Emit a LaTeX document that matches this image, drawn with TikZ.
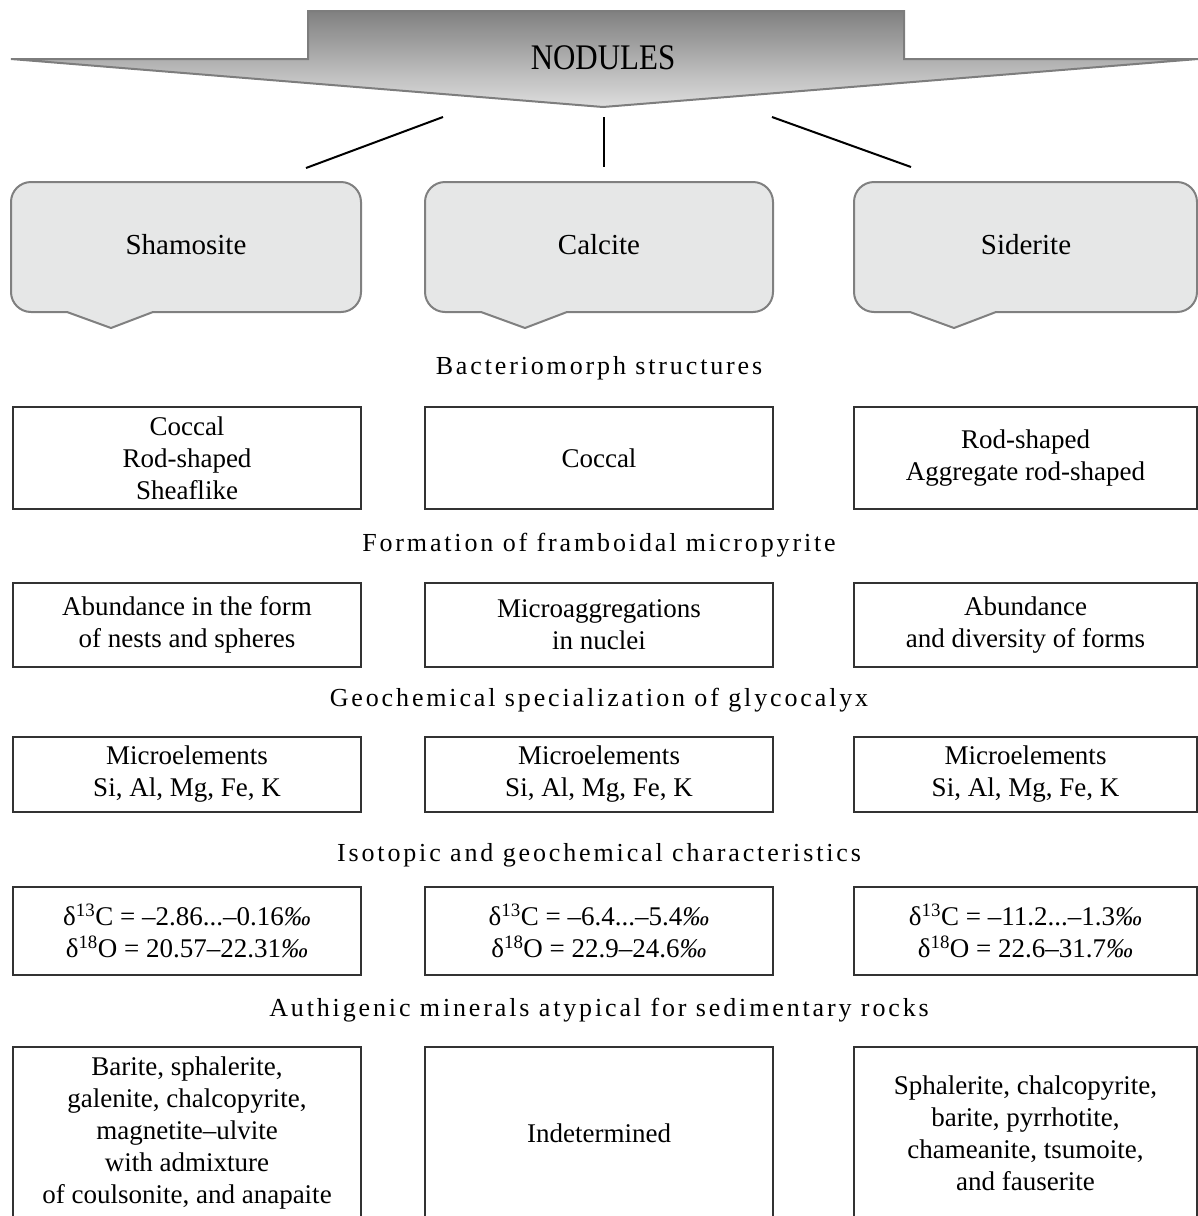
\documentclass[tikz,border=0pt]{standalone}
\usepackage{fontspec}
\setmainfont{Liberation Serif}
\newfontfamily\headfont[LetterSpace=11]{Liberation Serif}
\definecolor{banTop}{RGB}{128,128,128}
\definecolor{banBot}{RGB}{222,222,222}
\definecolor{banEdge}{RGB}{125,125,125}
\definecolor{callFill}{RGB}{230,231,231}
\definecolor{callEdge}{RGB}{128,128,128}
\definecolor{boxEdge}{RGB}{50,50,50}
\begin{document}
\begin{tikzpicture}[x=1pt,y=-1pt,
  boxnode/.style={draw=boxEdge, line width=1.5pt, fill=white, align=center, inner sep=0pt,
    font=\fontsize{27}{32}\selectfont},
  headnode/.style={font=\headfont\fontsize{26}{30}\selectfont, inner sep=0pt},
  callnode/.style={font=\fontsize{29}{34}\selectfont, inner sep=0pt},
  callshape/.style={fill=callFill, draw=callEdge, line width=2pt, line join=round},
  link/.style={draw=black, line width=2pt}]
\useasboundingbox (0,0) rectangle (1198,1216);
\clip (0,0) rectangle (1198,1216);

% banner
\path[top color=banTop, bottom color=banBot, draw=banEdge, line width=2pt, line join=miter]
  (308,11) -- (904,11) -- (904,59) -- (1198,59) -- (603,107) -- (11,59) -- (308,59) -- cycle;
\node[font=\fontsize{36}{40}\selectfont, inner sep=0pt] (nod) at (603,58) {\scalebox{0.86}[1]{NODULES}};

% connectors
\coordinate (l1) at (443,117); \coordinate (l2) at (306,168);
\coordinate (m1) at (604,117); \coordinate (m2) at (604,167);
\coordinate (r1) at (772,117); \coordinate (r2) at (911,167);
\draw[link] (l1) -- (l2);
\draw[link] (m1) -- (m2);
\draw[link] (r1) -- (r2);

% callouts
\foreach \L/\R in {11/361, 425/773, 854/1197}{
  \path[callshape] (\L,292) -- (\L,202) arc[start angle=180, end angle=270, radius=20]
    -- (\R-20,182) arc[start angle=270, end angle=360, radius=20]
    -- (\R,292) arc[start angle=0, end angle=90, radius=20]
    -- (\L+142,312) -- (\L+100,328) -- (\L+56,312)
    -- (\L+20,312) arc[start angle=90, end angle=180, radius=20] -- cycle;
}
\node[callnode] (sha) at (186,245) {Shamosite};
\node[callnode] (cal) at (599,245) {Calcite};
\node[callnode] (sid) at (1026,245) {Siderite};

% headings
\node[headnode] (h1) at (599,368) {Bacteriomorph structures};
\node[headnode] (h2) at (599,545) {Formation of framboidal micropyrite};
\node[headnode] (h3) at (599,700) {Geochemical specialization of glycocalyx};
\node[headnode] (h4) at (599,855) {Isotopic and geochemical characteristics};
\node[headnode] (h5) at (599,1010) {Authigenic minerals atypical for sedimentary rocks};

% row 1
\node[boxnode, minimum width=348pt, minimum height=102pt] (a1) at (187,458) {Coccal\\Rod-shaped\\Sheaflike};
\node[boxnode, minimum width=348pt, minimum height=102pt] (b1) at (599,458) {Coccal};
\node[boxnode, minimum width=343pt, minimum height=102pt] (c1) at (1025.5,458) {Rod-shaped\\Aggregate rod-shaped};
% row 2
\node[boxnode, minimum width=348pt, minimum height=84pt] (a2) at (187,625) {Abundance in the form\\of nests and spheres};
\node[boxnode, minimum width=348pt, minimum height=84pt] (b2) at (599,625) {Microaggregations\\in nuclei};
\node[boxnode, minimum width=343pt, minimum height=84pt] (c2) at (1025.5,625) {Abundance\\and diversity of forms};
% row 3
\node[boxnode, minimum width=348pt, minimum height=75pt] (a3) at (187,774.5) {Microelements\\Si, Al, Mg, Fe, K};
\node[boxnode, minimum width=348pt, minimum height=75pt] (b3) at (599,774.5) {Microelements\\Si, Al, Mg, Fe, K};
\node[boxnode, minimum width=343pt, minimum height=75pt] (c3) at (1025.5,774.5) {Microelements\\Si, Al, Mg, Fe, K};
% row 4
\node[boxnode, minimum width=348pt, minimum height=88pt] (a4) at (187,931) {δ\textsuperscript{13}C = –2.86...–0.16\textit{‰}\\δ\textsuperscript{18}O = 20.57–22.31\textit{‰}};
\node[boxnode, minimum width=348pt, minimum height=88pt] (b4) at (599,931) {δ\textsuperscript{13}C = –6.4...–5.4\textit{‰}\\δ\textsuperscript{18}O = 22.9–24.6\textit{‰}};
\node[boxnode, minimum width=343pt, minimum height=88pt] (c4) at (1025.5,931) {δ\textsuperscript{13}C = –11.2...–1.3\textit{‰}\\δ\textsuperscript{18}O = 22.6–31.7\textit{‰}};
% row 5
\node[boxnode, minimum width=348pt, minimum height=172pt] (a5) at (187,1133) {Barite, sphalerite,\\galenite, chalcopyrite,\\magnetite–ulvite\\with admixture\\of coulsonite, and anapaite};
\node[boxnode, minimum width=348pt, minimum height=172pt] (b5) at (599,1133) {Indetermined};
\node[boxnode, minimum width=343pt, minimum height=172pt] (c5) at (1025.5,1133) {Sphalerite, chalcopyrite,\\barite, pyrrhotite,\\chameanite, tsumoite,\\and fauserite};
\end{tikzpicture}
\end{document}
